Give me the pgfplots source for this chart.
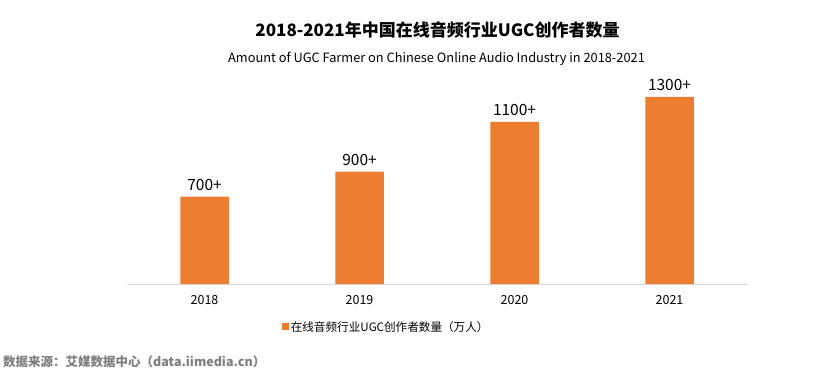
\documentclass[border=0pt]{standalone}
\usepackage{pgfplots}
\pgfplotsset{compat=1.18}
\usepackage{fontspec}
\setmainfont{Noto Sans CJK SC}
\definecolor{barorange}{HTML}{ED7D31}
\definecolor{axisgray}{HTML}{D9D9D9}
\definecolor{srcgray}{HTML}{7F7F7F}
\begin{document}
\begin{tikzpicture}[x=1bp,y=1bp]
\path[use as bounding box] (0,0) rectangle (830,373);
\node[font=\fontsize{17bp}{20bp}\selectfont\bfseries] at (437.5,343) {2018-2021年中国在线音频行业UGC创作者数量};
\node[font=\fontsize{12.8bp}{15bp}\selectfont] at (436.5,314) {Amount of UGC Farmer on Chinese Online Audio Industry in 2018-2021};
\node[font=\fontsize{12.5bp}{15bp}\selectfont\bfseries, text=srcgray, anchor=west, inner sep=0pt] at (3,11) {数据来源：艾媒数据中心（data.iimedia.cn）};
\begin{axis}[
  at={(127bp,89bp)}, anchor=south west,
  scale only axis,
  width=620bp, height=199.6bp,
  xmin=-0.5, xmax=3.5, ymin=0, ymax=1600,
  axis x line*=bottom,
  axis y line=none,
  x axis line style={draw=axisgray, line width=0.8bp, -},
  xtick={0,1,2,3},
  xticklabels={2018,2019,2020,2021},
  major tick length=0pt,
  xticklabel style={font=\fontsize{12.5bp}{15bp}\selectfont, anchor=center, yshift=-16bp},
  ytick=\empty,
  ybar, bar width=48.5bp,
  point meta=explicit symbolic,
  nodes near coords,
  nodes near coords style={font=\fontsize{15.5bp}{18bp}\selectfont, anchor=base, inner sep=0pt, yshift=6.5bp},
  legend style={at={(0.418,-0.215)}, anchor=center, draw=none, fill=none,
    font=\fontsize{11.6bp}{13bp}\selectfont, inner sep=0pt,
    legend cell align=left},
  legend image code/.code={\fill[barorange] (0bp,-3.5bp) rectangle (7bp,3.5bp);},
  clip=false,
]
\addplot[fill=barorange, draw=none] coordinates {
  (0,700) [700+]
  (1,900) [900+]
  (2,1300) [1100+]
  (3,1500) [1300+]
};
\addlegendentry{在线音频行业UGC创作者数量（万人）}
\end{axis}
\end{tikzpicture}
\end{document}
